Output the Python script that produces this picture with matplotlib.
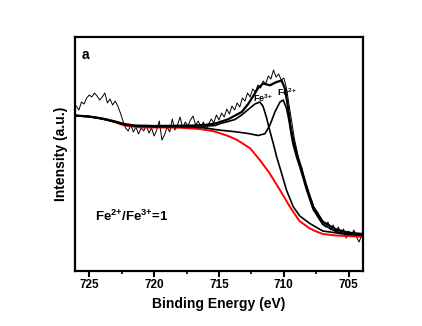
import matplotlib
matplotlib.use("Agg")
import matplotlib.pyplot as plt
from matplotlib.ticker import MultipleLocator

plt.rcParams['font.family'] = ['Liberation Sans', 'DejaVu Sans']
plt.rcParams['font.weight'] = 'bold'
plt.rcParams['mathtext.default'] = 'regular'

# raw spectrum (binding energy, intensity in arbitrary units)
raw_e = [726.0, 725.8, 725.6, 725.4, 725.2, 725.0, 724.8, 724.6, 724.4, 724.2,
         724.0, 723.8, 723.6, 723.4, 723.2, 723.0, 722.8, 722.6, 722.4, 722.2,
         722.0, 721.8, 721.6, 721.4, 721.2, 721.0, 720.8, 720.6, 720.4, 720.2,
         720.0, 719.8, 719.6, 719.4, 719.2, 719.0, 718.8, 718.6, 718.4, 718.2,
         718.0, 717.8, 717.6, 717.4, 717.2, 717.0, 716.8, 716.6, 716.4, 716.2,
         716.0, 715.8, 715.6, 715.4, 715.2, 715.0, 714.8, 714.6, 714.4, 714.2,
         714.0, 713.8, 713.6, 713.4, 713.2, 713.0, 712.8, 712.6, 712.4, 712.2,
         712.0, 711.8, 711.6, 711.4, 711.2, 711.0, 710.8, 710.6, 710.4, 710.2,
         710.0, 709.8, 709.6, 709.4, 709.2, 709.0, 708.8, 708.6, 708.4, 708.2,
         708.0, 707.8, 707.6, 707.4, 707.2, 707.0, 706.8, 706.6, 706.4, 706.2,
         706.0, 705.8, 705.6, 705.4, 705.2, 705.0, 704.8, 704.6, 704.4, 704.2,
         704.0]
raw_i = [165, 161, 169, 167, 173, 176, 174, 178, 175, 171,
         174, 178, 168, 172, 166, 170, 165, 158, 150, 143,
         140, 146, 139, 144, 137, 143, 140, 146, 138, 143,
         135, 141, 150, 131, 136, 144, 139, 152, 141, 146,
         154, 143, 149, 145, 151, 155, 146, 150, 144, 149,
         141, 147, 152, 148, 156, 151, 158, 154, 162, 157,
         165, 161, 168, 164, 173, 170, 178, 174, 182, 179,
         186, 183, 190, 187, 195, 192, 201, 194, 197, 191,
         193, 183, 166, 150, 133, 121, 107, 103, 90, 84,
         74, 69, 60, 59, 51, 50, 44, 49, 41, 46,
         39, 44, 37, 42, 33, 40, 36, 41, 34, 29,
         36]

# fitted envelope
fit_e = [726.1, 725.0, 724.0, 723.0, 722.3, 721.5, 720.0, 718.5, 717.0, 716.0,
         715.3, 714.3, 713.25, 712.75, 712.36, 711.98, 711.6, 711.3, 711.08, 710.56,
         710.18, 709.92, 709.67, 709.46, 709.28, 709.0, 708.77, 708.25, 707.74, 707.0,
         706.0, 705.0, 703.9]
fit_i = [155.5, 154.5, 152.5, 149.5, 147.0, 145.5, 145.0, 145.2, 145.5, 146.2,
         147.5, 151.7, 159, 167, 175, 183, 187.5, 186.5, 185.7, 189,
         190.5, 182.5, 163, 143, 131, 117, 107.7, 84.3, 64.3, 49.3,
         41.7, 38.3, 37]

# Fe3+ component (on background)
fe3_e = [726.1, 725.0, 724.0, 723.0, 722.3, 721.5, 720.0, 718.5, 717.0, 716.0,
         715.3, 714.9, 714.3, 713.77, 713.25, 712.75, 712.23, 711.85, 711.6, 711.33,
         711.08, 710.82, 710.56, 710.18, 709.8, 709.28, 708.77, 708.0, 707.0, 705.2,
         703.9]
fe3_i = [155.5, 154.5, 152.3, 149.2, 146.7, 145.2, 144.7, 144.8, 145.0, 145.0,
         145.5, 147.5, 149.5, 151.5, 156, 161.5, 167, 169, 164.5, 153,
         140, 127.7, 114.3, 98, 81, 64.3, 55, 47.5, 40, 36.7,
         35.7]

# Fe2+ component (on background)
fe2_e = [726.1, 725.0, 724.0, 723.0, 722.3, 721.5, 720.0, 718.5, 717.0, 716.0,
         715.3, 714.9, 713.77, 712.75, 711.98, 711.46, 711.08, 710.69, 710.3, 710.05,
         709.79, 709.6, 709.4, 709.28, 709.0, 708.77, 708.25, 707.74, 707.0, 706.0,
         705.0, 703.9]
fe2_i = [155.5, 154.3, 152, 148.8, 146.3, 144.8, 144.2, 144.3, 144.0, 143.0,
         141.5, 140.8, 139.3, 137.5, 135.5, 137.3, 145.7, 159, 169, 171,
         162.3, 150, 134, 126, 113, 104, 81, 61.5, 46.5, 39.5,
         36.8, 35.8]

# Shirley background
bg_e = [726.1, 724.5, 723.6, 722.3, 721.0, 719.5, 718.0, 716.5, 715.5, 714.9,
        714.2, 713.6, 712.6, 711.85, 711.1, 710.3, 709.5, 708.8, 708.0, 707.5,
        707.0, 706.0, 705.2, 703.9]
bg_i = [155.5, 153.5, 151.5, 145.5, 143.5, 143.5, 143.3, 142.0, 140.0, 137.7,
        134.5, 131.0, 122.7, 111, 97.7, 81, 63.5, 50, 42.5, 39.5,
        37, 35.5, 35, 34.3]

fig = plt.figure(figsize=(4.22, 3.26), dpi=100)
ax = fig.add_axes([0.1777, 0.1687, 0.6825, 0.7178])

ax.plot(raw_e, raw_i, color='black', lw=0.7)
ax.plot(bg_e, bg_i, color='red', lw=1.4)
ax.plot(fe3_e, fe3_i, color='black', lw=1.2)
ax.plot(fe2_e, fe2_i, color='black', lw=1.2)
ax.plot(fit_e, fit_i, color='black', lw=1.6)

ax.set_xlim(726.1, 703.9)
ax.set_ylim(0, 234)

ax.xaxis.set_major_locator(MultipleLocator(5))
ax.xaxis.set_minor_locator(MultipleLocator(2.5))
ax.tick_params(axis='x', which='major', direction='out', length=4, width=1.5,
               labelsize=8.5, pad=2)
ax.tick_params(axis='x', which='minor', direction='out', length=2.5, width=1.2)
ax.set_yticks([])
for s in ax.spines.values():
    s.set_linewidth(1.6)

ax.set_xlabel('Binding Energy (eV)', fontsize=10, fontweight='bold', labelpad=4)
ax.set_ylabel('Intensity (a.u.)', fontsize=10, fontweight='bold', labelpad=5)

ax.text(725.6, 216, 'a', fontsize=10, fontweight='bold', va='center', ha='left')
ax.text(724.55, 55, 'Fe$^{2{+}}$/Fe$^{3{+}}$=1', fontsize=9.5, fontweight='bold',
        va='center', ha='left')
ax.text(712.4, 169, 'Fe$^{3{+}}$', fontsize=6.5, fontweight='bold', va='baseline', ha='left')
ax.text(710.55, 175, 'Fe$^{2{+}}$', fontsize=6.5, fontweight='bold', va='baseline', ha='left')

fig.savefig('out.png', dpi=100)
